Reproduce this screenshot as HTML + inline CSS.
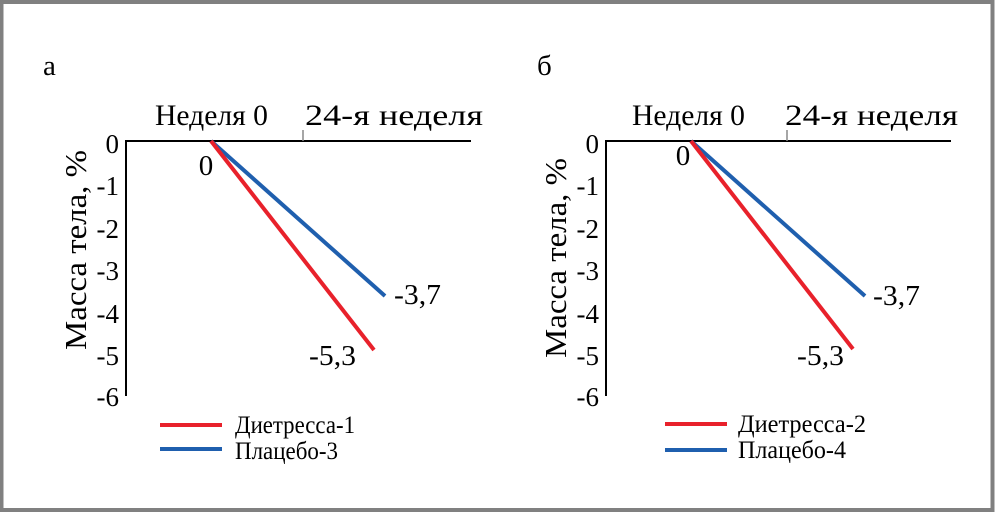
<!DOCTYPE html>
<html><head><meta charset="utf-8"><style>
html,body{margin:0;padding:0;background:#fff;}
svg{display:block;}
svg text{font-family:"Liberation Serif","Times New Roman","DejaVu Serif",serif;fill:#000;}
</style></head><body>
<svg width="995" height="512" viewBox="0 0 995 512" xmlns="http://www.w3.org/2000/svg">
<rect x="0" y="0" width="995" height="512" fill="#fff"/>
<rect x="1.5" y="2" width="991" height="508" fill="none" stroke="#808080" stroke-width="4"/>
<g>
<text x="43" y="75" font-size="29">а</text>
<text x="155" y="125" font-size="30" textLength="113" lengthAdjust="spacingAndGlyphs">Неделя 0</text>
<text x="305" y="125" font-size="30" textLength="178" lengthAdjust="spacingAndGlyphs">24-я неделя</text>
<line x1="126" y1="140" x2="126" y2="396" stroke="#000" stroke-width="2"/>
<line x1="125" y1="141" x2="471" y2="141" stroke="#000" stroke-width="2"/>
<line x1="303" y1="130" x2="303" y2="141" stroke="#888" stroke-width="1.5"/>
<g font-size="27" text-anchor="end">
<text x="119" y="153">0</text><text x="119" y="195">-1</text><text x="119" y="238">-2</text>
<text x="119" y="280">-3</text><text x="119" y="323">-4</text><text x="119" y="365">-5</text><text x="119" y="406">-6</text>
</g>
<text transform="translate(86,350) rotate(-90)" font-size="31" textLength="200" lengthAdjust="spacingAndGlyphs">Масса тела, %</text>
<line x1="211" y1="141" x2="385" y2="296" stroke="#1f5fae" stroke-width="4"/>
<line x1="211" y1="141" x2="374" y2="350" stroke="#e8212b" stroke-width="4"/>
<text x="206" y="175" font-size="29" text-anchor="middle">0</text>
<text x="394" y="304" font-size="29" textLength="47" lengthAdjust="spacingAndGlyphs">-3,7</text>
<text x="309" y="365" font-size="29" textLength="47" lengthAdjust="spacingAndGlyphs">-5,3</text>
<line x1="160" y1="425" x2="222" y2="425" stroke="#e8212b" stroke-width="4"/>
<line x1="160" y1="449" x2="222" y2="449" stroke="#1f5fae" stroke-width="4"/>
<text x="235" y="433" font-size="25" textLength="120" lengthAdjust="spacingAndGlyphs">Диетресса-1</text>
<text x="235" y="459" font-size="25" textLength="103" lengthAdjust="spacingAndGlyphs">Плацебо-3</text>
</g>
<g>
<text x="537" y="75" font-size="29">б</text>
<text x="632" y="125" font-size="30" textLength="113" lengthAdjust="spacingAndGlyphs">Неделя 0</text>
<text x="785" y="125" font-size="30" textLength="173" lengthAdjust="spacingAndGlyphs">24-я неделя</text>
<line x1="606" y1="140" x2="606" y2="396" stroke="#000" stroke-width="2"/>
<line x1="605" y1="141" x2="951" y2="141" stroke="#000" stroke-width="2"/>
<line x1="787" y1="130" x2="787" y2="141" stroke="#888" stroke-width="1.5"/>
<g font-size="27" text-anchor="end">
<text x="599" y="153">0</text><text x="599" y="195">-1</text><text x="599" y="238">-2</text>
<text x="599" y="280">-3</text><text x="599" y="323">-4</text><text x="599" y="365">-5</text><text x="599" y="406">-6</text>
</g>
<text transform="translate(566,358) rotate(-90)" font-size="31" textLength="200" lengthAdjust="spacingAndGlyphs">Масса тела, %</text>
<line x1="691" y1="141" x2="865" y2="296" stroke="#1f5fae" stroke-width="4"/>
<line x1="691" y1="141" x2="853" y2="349" stroke="#e8212b" stroke-width="4"/>
<text x="683" y="165" font-size="29" text-anchor="middle">0</text>
<text x="873" y="305" font-size="29" textLength="47" lengthAdjust="spacingAndGlyphs">-3,7</text>
<text x="797" y="365" font-size="29" textLength="47" lengthAdjust="spacingAndGlyphs">-5,3</text>
<line x1="665" y1="424" x2="727" y2="424" stroke="#e8212b" stroke-width="4"/>
<line x1="665" y1="450" x2="727" y2="450" stroke="#1f5fae" stroke-width="4"/>
<text x="738" y="432" font-size="25" textLength="128" lengthAdjust="spacingAndGlyphs">Диетресса-2</text>
<text x="738" y="458" font-size="25" textLength="108" lengthAdjust="spacingAndGlyphs">Плацебо-4</text>
</g>
</svg>
</body></html>
